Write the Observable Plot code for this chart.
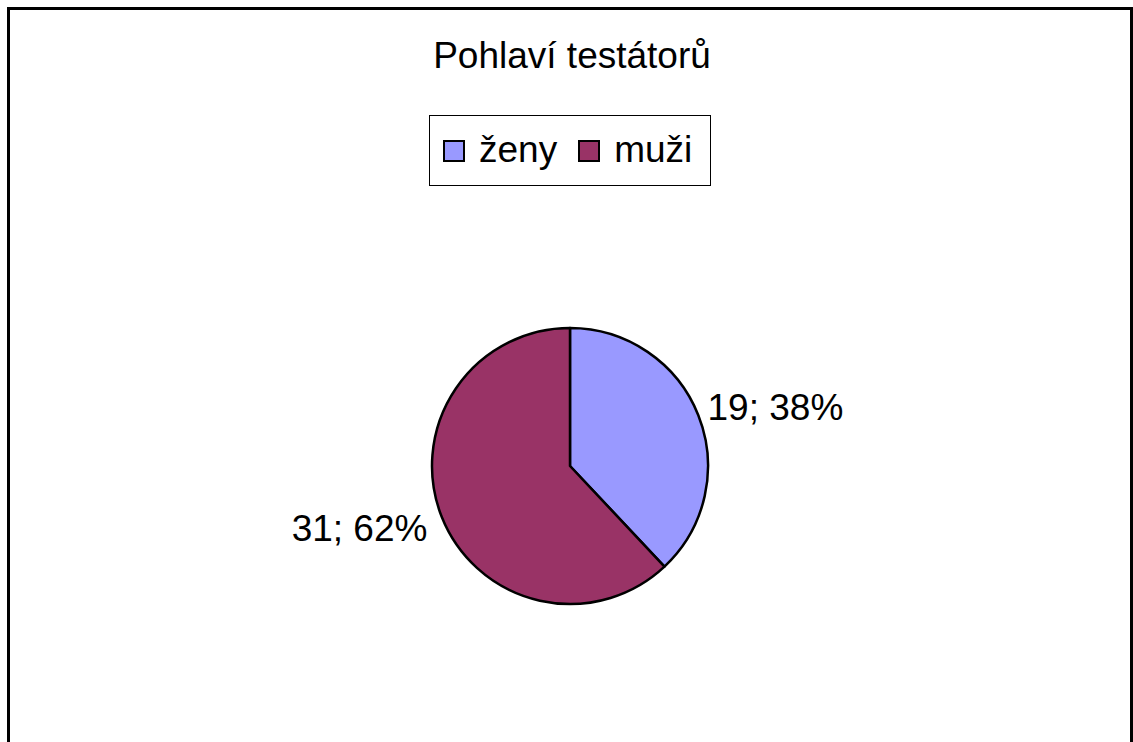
<!DOCTYPE html>
<html>
<head>
<meta charset="utf-8">
<script src="https://cdn.jsdelivr.net/npm/d3@7"></script>
<script src="https://cdn.jsdelivr.net/npm/@observablehq/plot@0.6"></script>
<style>
html, body { margin: 0; padding: 0; background: #fff; overflow: hidden; width: 1133px; height: 742px;
  font-family: "Liberation Sans", Arial, sans-serif; }
#frame { position: absolute; left: 7px; top: 7px; width: 1126px; height: 800px; box-sizing: border-box;
  border: 3px solid #000; border-bottom: none; }
#chart { position: absolute; left: 0; top: 0; }
#title { position: absolute; left: 0; width: 1144px; top: 37px; text-align: center; font-size: 37px; line-height: 37px; color: #000; }
#legend { position: absolute; left: 429px; top: 115px; width: 282px; height: 71px; box-sizing: border-box;
  border: 1px solid #000; display: flex; align-items: center; padding-left: 13px; font-size: 37px; line-height: 37px; }
#legend .item { display: flex; align-items: center; margin-right: 21px; }
#legend .sw { width: 22px; height: 22px; box-sizing: border-box; border: 2.5px solid #000; margin-right: 14px; }
#legend .lab { position: relative; top: -1px; }
</style>
</head>
<body>
<div id="frame"></div>
<div id="chart"></div>
<div id="title"></div>
<div id="legend"></div>
<script>
const titleText = "Pohlaví testátorů";
const categories = ["ženy", "muži"];
const values = [19, 31];
const colors = ["#9999FF", "#993366"];

const total = d3.sum(values);
const color = Plot.scale({color: {type: "ordinal", domain: categories, range: colors}});
const arcs = d3.pie().sort(null)(values);

const labels = categories.map((c, i) => {
  const a = (arcs[i].startAngle + arcs[i].endAngle) / 2;
  return {
    category: c,
    text: `${values[i]}; ${Math.round(values[i] / total * 100)}%`,
    side: Math.sin(a) >= 0 ? "right" : "left",
    sin: Math.sin(a),
    cos: Math.cos(a)
  };
});

function pieMark(index, scales) {
  const cx = scales.x(0), cy = scales.y(0);
  const r = scales.x(1) - scales.x(0);
  const g = d3.create("svg:g").attr("transform", `translate(${cx},${cy})`);
  const arc = d3.arc().innerRadius(0).outerRadius(r);
  g.selectAll("path").data(arcs).join("path")
    .attr("d", arc)
    .attr("fill", (d, i) => color.apply(categories[i]))
    .attr("stroke", "#000")
    .attr("stroke-width", 2.5)
    .attr("stroke-linejoin", "round");
  return g.node();
}

const chart = Plot.plot({
  width: 1133,
  height: 742,
  margin: 0,
  style: {background: "transparent", fontFamily: "'Liberation Sans', Arial, sans-serif"},
  x: {domain: [-1, 1], range: [432, 708], axis: null},
  y: {domain: [-1, 1], range: [604, 328], axis: null},
  marks: [
    pieMark,
    Plot.text(labels.filter(d => d.side === "right"), {
      x: d => 1.068 * d.sin, y: d => 1.068 * d.cos, text: "text",
      textAnchor: "start", dy: -4, fontSize: 37, fill: "#000"
    }),
    Plot.text(labels.filter(d => d.side === "left"), {
      x: d => 1.115 * d.sin, y: d => 1.115 * d.cos, text: "text",
      textAnchor: "end", dy: 6, fontSize: 37, fill: "#000"
    })
  ]
});
document.getElementById("chart").appendChild(chart);

document.getElementById("title").textContent = titleText;
const legend = d3.select("#legend");
categories.forEach((c) => {
  const item = legend.append("div").attr("class", "item");
  item.append("div").attr("class", "sw").style("background", color.apply(c));
  item.append("span").attr("class", "lab").text(c);
});
</script>
</body>
</html>
